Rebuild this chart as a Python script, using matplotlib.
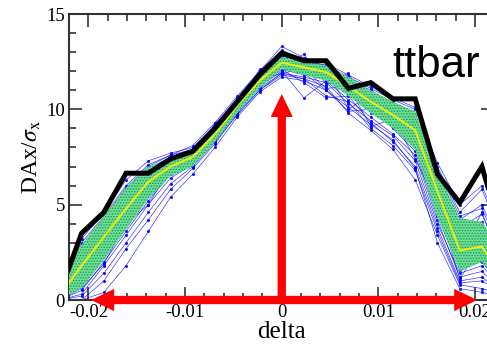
import matplotlib
matplotlib.use("Agg")
import matplotlib.pyplot as plt
from matplotlib.patches import FancyArrowPatch
from matplotlib.ticker import MultipleLocator

# scan points in delta
delta = [-0.0230, -0.0207, -0.0184, -0.0161, -0.0138, -0.0115, -0.0092, -0.0069,
         -0.0046, -0.0023, 0.0, 0.0023, 0.0046, 0.0069, 0.0092, 0.0115, 0.0138,
         0.0161, 0.0184, 0.0207, 0.0230]

# measured DAx/sigma_x
data_y = [0.3, 3.5, 4.6, 6.65, 6.65, 7.4, 7.8, 9.0, 10.4, 11.8, 12.95, 12.55, 12.55,
          11.1, 11.4, 10.55, 10.55, 6.6, 5.1, 7.0, 3.0]

# mean of the toy experiments and their spread band
mean_y = [0.2, 1.8, 3.3, 4.8, 6.2, 7.0, 7.5, 8.7, 10.2, 11.5, 12.45, 12.2, 11.95,
          11.2, 10.4, 9.7, 8.9, 5.7, 2.6, 2.8, 1.0]
band_lo = [0.0, 0.6, 2.1, 3.7, 5.3, 6.5, 7.0, 8.3, 9.8, 11.1, 12.1, 11.8, 11.5,
           10.7, 9.8, 9.0, 7.9, 4.3, 1.5, 2.0, 0.3]
band_hi = [1.2, 2.9, 4.4, 5.9, 7.0, 7.4, 7.9, 9.1, 10.6, 11.8, 12.75, 12.5, 12.3,
           11.7, 11.0, 10.4, 9.9, 6.8, 4.3, 4.1, 2.5]

# individual toy experiments
toys = [
    [1.2, 3.2, 4.6, 6.3, 7.3, 7.7, 8.0, 9.2, 10.6, 12.0, 13.3, 12.7, 12.4, 11.8, 11.2, 10.6, 10.1, 7.0, 4.6, 5.8, 3.0],
    [0.8, 2.6, 4.0, 5.6, 6.8, 7.5, 7.9, 9.0, 10.4, 11.7, 12.8, 12.5, 12.3, 11.6, 10.9, 10.2, 9.6, 6.4, 3.8, 4.5, 2.0],
    [0.3, 1.9, 3.5, 5.0, 6.4, 7.1, 7.6, 8.8, 10.3, 11.6, 12.5, 12.3, 12.0, 11.3, 10.5, 9.8, 9.0, 5.6, 2.5, 2.9, 1.2],
    [0.0, 1.2, 2.8, 4.4, 5.9, 6.9, 7.4, 8.6, 10.1, 11.4, 12.3, 11.9, 11.8, 11.0, 10.1, 9.4, 8.5, 5.0, 2.0, 2.4, 0.8],
    [0.0, 0.3, 1.8, 3.4, 5.0, 6.4, 7.1, 8.4, 9.9, 11.2, 12.0, 10.6, 11.5, 10.5, 9.6, 8.7, 7.6, 4.2, 1.2, 1.5, 0.4],
    [0.0, 0.0, 1.0, 2.7, 4.2, 5.8, 6.9, 8.2, 9.8, 11.0, 11.8, 11.6, 11.2, 9.8, 8.9, 7.9, 6.3, 3.4, 0.8, 0.6, 0.2],
    [0.5, 2.2, 3.9, 5.3, 6.6, 7.3, 7.7, 9.1, 10.5, 11.9, 13.0, 12.6, 12.1, 10.0, 10.8, 10.0, 9.3, 6.0, 3.2, 3.6, 1.6],
    [0.1, 1.5, 3.1, 4.7, 6.1, 7.0, 7.5, 8.6, 10.0, 11.3, 12.2, 12.0, 11.6, 10.9, 9.9, 9.2, 8.0, 4.8, 1.7, 2.0, 0.7],
    [0.9, 2.8, 4.3, 5.9, 7.0, 7.6, 7.9, 8.9, 10.3, 11.7, 12.7, 12.4, 12.2, 11.5, 10.7, 9.9, 9.4, 6.6, 4.2, 5.0, 2.4],
    [0.0, 0.8, 2.3, 3.9, 5.5, 6.7, 7.3, 8.5, 10.0, 11.3, 12.1, 11.4, 10.6, 10.7, 9.3, 8.3, 7.0, 3.8, 1.0, 1.2, 0.3],
    [0.4, 2.0, 3.6, 5.1, 6.5, 7.2, 7.6, 8.8, 10.2, 11.5, 12.6, 12.3, 12.0, 11.4, 10.6, 9.7, 8.7, 5.3, 2.2, 2.6, 1.0],
    [0.2, 1.6, 3.2, 4.9, 6.3, 7.1, 7.8, 8.9, 10.4, 11.6, 12.4, 12.2, 11.9, 11.1, 10.2, 9.5, 8.8, 5.9, 2.9, 3.2, 1.3],
    [0.0, 0.5, 2.0, 3.6, 5.2, 6.6, 7.2, 8.3, 9.7, 11.0, 11.9, 11.7, 11.4, 10.3, 9.4, 8.6, 7.3, 4.0, 1.4, 1.8, 0.5],
    [0.6, 2.4, 3.8, 5.5, 6.7, 7.4, 7.8, 9.0, 10.5, 11.8, 12.9, 12.4, 12.2, 11.6, 11.0, 10.3, 9.7, 6.9, 4.4, 4.8, 2.2],
    [0.0, 1.0, 2.6, 4.1, 5.7, 6.8, 7.4, 8.5, 10.0, 11.2, 12.1, 11.8, 11.7, 10.8, 10.0, 9.1, 8.2, 4.6, 1.6, 2.1, 0.6],
    [0.2, 1.7, 3.0, 4.6, 6.0, 7.0, 7.6, 8.7, 10.1, 11.5, 12.5, 12.1, 11.9, 11.2, 10.3, 9.6, 8.7, 5.4, 2.4, 2.7, 1.1],
    [0.0, 0.2, 1.4, 3.0, 4.6, 6.1, 7.0, 8.3, 9.9, 11.1, 11.9, 11.6, 10.7, 10.4, 9.0, 8.1, 6.8, 3.6, 0.9, 1.0, 0.3],
    [1.0, 3.0, 4.4, 6.0, 7.1, 7.6, 8.1, 9.3, 10.7, 12.0, 13.1, 12.6, 12.3, 11.7, 11.1, 10.5, 10.0, 7.2, 5.0, 6.0, 3.2],
    [0.3, 1.8, 3.4, 5.2, 6.5, 7.2, 7.7, 8.8, 10.2, 11.6, 12.6, 12.4, 12.1, 11.3, 10.6, 9.8, 9.1, 5.8, 3.0, 3.4, 1.5],
    [0.0, 0.9, 2.5, 4.2, 5.8, 6.9, 7.5, 8.6, 10.1, 11.4, 12.3, 12.0, 11.8, 11.0, 10.2, 9.0, 7.8, 4.4, 1.9, 2.3, 0.7],
    [0.1, 1.4, 2.9, 4.5, 6.0, 7.0, 7.4, 8.6, 10.0, 11.3, 12.2, 11.9, 11.0, 9.9, 10.0, 9.3, 8.3, 5.1, 2.1, 2.5, 0.9],
    [0.7, 2.5, 4.1, 5.7, 6.9, 7.5, 7.9, 9.0, 10.4, 11.8, 12.8, 12.5, 12.3, 11.6, 10.8, 10.1, 9.5, 6.3, 3.6, 4.1, 1.9],
    [0.0, 0.0, 0.4, 1.8, 3.6, 5.4, 6.6, 8.0, 9.6, 10.9, 11.7, 11.5, 11.0, 10.1, 9.2, 8.4, 6.9, 3.0, 0.6, 0.4, 0.1],
    [0.5, 2.9, 3.6, 5.8, 6.4, 7.6, 7.3, 9.3, 10.1, 12.1, 12.2, 12.9, 11.3, 11.9, 9.8, 10.4, 8.2, 6.5, 2.4, 4.6, 1.4],
    [0.0, 0.6, 1.9, 4.0, 5.0, 6.9, 7.0, 8.8, 9.7, 11.5, 11.9, 12.1, 11.1, 11.2, 9.1, 9.5, 7.4, 5.0, 1.1, 2.9, 0.5],
    [0.3, 2.3, 3.0, 5.4, 5.9, 7.4, 7.2, 9.1, 9.9, 11.9, 12.4, 12.6, 11.7, 11.5, 10.4, 9.9, 9.0, 5.9, 3.4, 3.0, 1.6],
]

x_ticks = [-0.02, -0.01, 0.0, 0.01, 0.02]
x_ticklabels = ["-0.02", "-0.01", "0", "0.01", "0.02"]
y_ticks = [0, 5, 10, 15]

plt.rcParams['font.family'] = ['Liberation Serif', 'DejaVu Serif']
plt.rcParams['mathtext.fontset'] = 'stix'
plt.rcParams['hatch.linewidth'] = 0.7

fig = plt.figure(figsize=(4.87, 3.52), dpi=100)
ax = fig.add_axes([0.1417, 0.1477, 0.8737, 0.8125])

for t in toys:
    ax.plot(delta, t, color='#0000ff', lw=0.45, marker='.', ms=2.5, alpha=0.85, zorder=2)

ax.fill_between(delta, band_lo, band_hi, facecolor='#6fe08a', edgecolor='#18907c',
                hatch='......', linewidth=0, zorder=3)
ax.plot(delta, mean_y, color='#f0f000', lw=1.4, zorder=4)
ax.plot(delta, data_y, color='black', lw=3.6, solid_joinstyle='miter', zorder=5)

# red arrows marking the scan range and the nominal point
arrow_kw = dict(arrowstyle='simple,head_length=16.5,head_width=16,tail_width=6',
                mutation_scale=1, color='#ff0000', lw=0, shrinkA=0, shrinkB=0,
                zorder=6, clip_on=False)
ax.add_patch(FancyArrowPatch((0.0003, 0), (-0.0197, 0), **arrow_kw))
ax.add_patch(FancyArrowPatch((-0.0003, 0), (0.0202, 0), **arrow_kw))
ax.add_patch(FancyArrowPatch((0, 0), (0, 10.8), **arrow_kw))

ax.text(0.01143, 11.7, 'ttbar', family='Liberation Sans', fontsize=31.5,
        ha='left', va='baseline', zorder=7)

ax.set_xlim(-0.022, 0.022)
ax.set_ylim(0, 15)
ax.set_xticks(x_ticks)
ax.set_xticklabels(x_ticklabels)
ax.set_yticks(y_ticks)
ax.xaxis.set_minor_locator(MultipleLocator(0.002))
ax.yaxis.set_minor_locator(MultipleLocator(1))
ax.tick_params(which='both', direction='in', top=True, right=True, color='#333333',
               width=1.2, labelsize=13.5, pad=3)
ax.tick_params(which='major', length=9.5)
ax.tick_params(which='minor', length=5)
for s in ax.spines.values():
    s.set_color('#333333')
    s.set_linewidth(1.5)

ax.set_xlabel('delta', fontsize=18, labelpad=0)
ax.set_ylabel(r'DAx/$\sigma_{\rm x}$', fontsize=17, labelpad=2)

fig.savefig('out.png', dpi=100)
